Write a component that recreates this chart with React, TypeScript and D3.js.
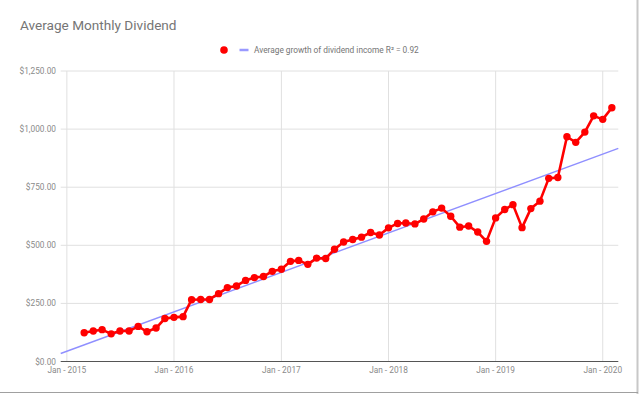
import React, { useMemo } from "react";
import * as d3 from "d3";

const title = "Average Monthly Dividend";
const legendLabel = "Average growth of dividend income R² = 0.92";

const months = [
  "2015-03", "2015-04", "2015-05", "2015-06", "2015-07", "2015-08", "2015-09", "2015-10", "2015-11", "2015-12",
  "2016-01", "2016-02", "2016-03", "2016-04", "2016-05", "2016-06", "2016-07", "2016-08", "2016-09", "2016-10", "2016-11", "2016-12",
  "2017-01", "2017-02", "2017-03", "2017-04", "2017-05", "2017-06", "2017-07", "2017-08", "2017-09", "2017-10", "2017-11", "2017-12",
  "2018-01", "2018-02", "2018-03", "2018-04", "2018-05", "2018-06", "2018-07", "2018-08", "2018-09", "2018-10", "2018-11", "2018-12",
  "2019-01", "2019-02", "2019-03", "2019-04", "2019-05", "2019-06", "2019-07", "2019-08", "2019-09", "2019-10", "2019-11", "2019-12",
  "2020-01", "2020-02",
];

const dividends = [
  124, 131, 137, 119, 131, 131, 151, 128, 144, 185,
  190, 193, 266, 267, 267, 292, 318, 325, 349, 361, 366, 388,
  397, 431, 435, 418, 445, 443, 483, 514, 525, 535, 555, 544,
  575, 594, 596, 592, 613, 644, 660, 625, 578, 583, 557, 517,
  618, 654, 675, 576, 658, 690, 788, 792, 967, 943, 987, 1057,
  1042, 1092,
];

const yTicks = [0, 250, 500, 750, 1000, 1250];
const xTickYears = [2015, 2016, 2017, 2018, 2019, 2020];

const parseMonth = d3.timeParse("%Y-%m");

export default function App() {
  const W = 640;
  const H = 394;
  const left = 60.7;
  const right = 618.3;
  const top = 71;
  const bottom = 361.5;

  const data = useMemo(
    () => months.map((m, i) => ({ date: parseMonth(m) as Date, value: dividends[i] })),
    []
  );

  const x = d3
    .scaleTime()
    .domain([new Date(2014, 11, 11), new Date(2020, 1, 23)])
    .range([left, right]);
  const y = d3.scaleLinear().domain([0, 1250]).range([bottom, top]);

  // least-squares trend line
  const xs = data.map((d) => d.date.getTime());
  const ys = data.map((d) => d.value);
  const mx = d3.mean(xs) as number;
  const my = d3.mean(ys) as number;
  let sxy = 0;
  let sxx = 0;
  xs.forEach((xv, i) => {
    sxy += (xv - mx) * (ys[i] - my);
    sxx += (xv - mx) * (xv - mx);
  });
  const slope = sxy / sxx;
  const intercept = my - slope * mx;
  const [d0, d1] = x.domain();
  const trend = [d0, d1].map((d) => ({ date: d, value: intercept + slope * d.getTime() }));

  const line = d3
    .line<{ date: Date; value: number }>()
    .x((d) => x(d.date))
    .y((d) => y(d.value));

  const fmt = (v: number) => "$" + d3.format(",.2f")(v);

  const font = "Roboto, Arial, sans-serif";

  return (
    <svg
      width={W}
      height={H}
      style={{ position: "absolute", left: 0, top: 0, background: "#fff" }}
    >
      <rect x={0} y={0} width={W} height={H} fill="#fff" />
      {/* title */}
      <text x={20} y={30} fontFamily={font} fontSize={13.6} fill="#757575">
        {title}
      </text>
      {/* legend */}
      <circle cx={224} cy={50} r={3.8} fill="#ff0000" />
      <line x1={239.5} x2={248.5} y1={50} y2={50} stroke="#9999ff" strokeWidth={2.5} />
      <text x={254} y={53} fontFamily={font} fontSize={8.3} fill="#757575">
        {legendLabel}
      </text>

      {/* horizontal gridlines */}
      {yTicks.map((t) =>
        t === 0 ? null : (
          <line key={"gy" + t} x1={left} x2={right} y1={y(t)} y2={y(t)} stroke="#e0e0e0" strokeWidth={1} />
        )
      )}
      {/* vertical gridlines */}
      {xTickYears.map((yr) => (
        <line
          key={"gx" + yr}
          x1={x(new Date(yr, 0, 1))}
          x2={x(new Date(yr, 0, 1))}
          y1={top}
          y2={bottom}
          stroke="#e0e0e0"
          strokeWidth={1}
        />
      ))}

      {/* y labels */}
      {yTicks.map((t) => (
        <text
          key={"yl" + t}
          x={56}
          y={y(t) + 3}
          textAnchor="end"
          fontFamily={font}
          fontSize={8.3}
          fill="#8a8a8a"
        >
          {fmt(t)}
        </text>
      ))}
      {/* x labels */}
      {xTickYears.map((yr) => (
        <text
          key={"xl" + yr}
          x={x(new Date(yr, 0, 1))}
          y={372.5}
          textAnchor="middle"
          fontFamily={font}
          fontSize={8.3}
          fill="#8a8a8a"
        >
          {"Jan - " + yr}
        </text>
      ))}

      {/* trend line */}
      <path d={line(trend) || ""} fill="none" stroke="#8f8fff" strokeWidth={1.4} />

      {/* series */}
      <path d={line(data) || ""} fill="none" stroke="#ff0000" strokeWidth={2.6} strokeLinejoin="round" />
      {data.map((d, i) => (
        <circle key={"p" + i} cx={x(d.date)} cy={y(d.value)} r={3.7} fill="#ff0000" />
      ))}

      {/* x axis baseline */}
      <line x1={left} x2={right} y1={bottom} y2={bottom} stroke="#555" strokeWidth={1} />

      {/* outer frame lines */}
      <line x1={637.5} x2={637.5} y1={0} y2={H} stroke="#c8c8c8" strokeWidth={2} />
      <line x1={0} x2={638} y1={392.5} y2={392.5} stroke="#a0a0a0" strokeWidth={1} />
    </svg>
  );
}
